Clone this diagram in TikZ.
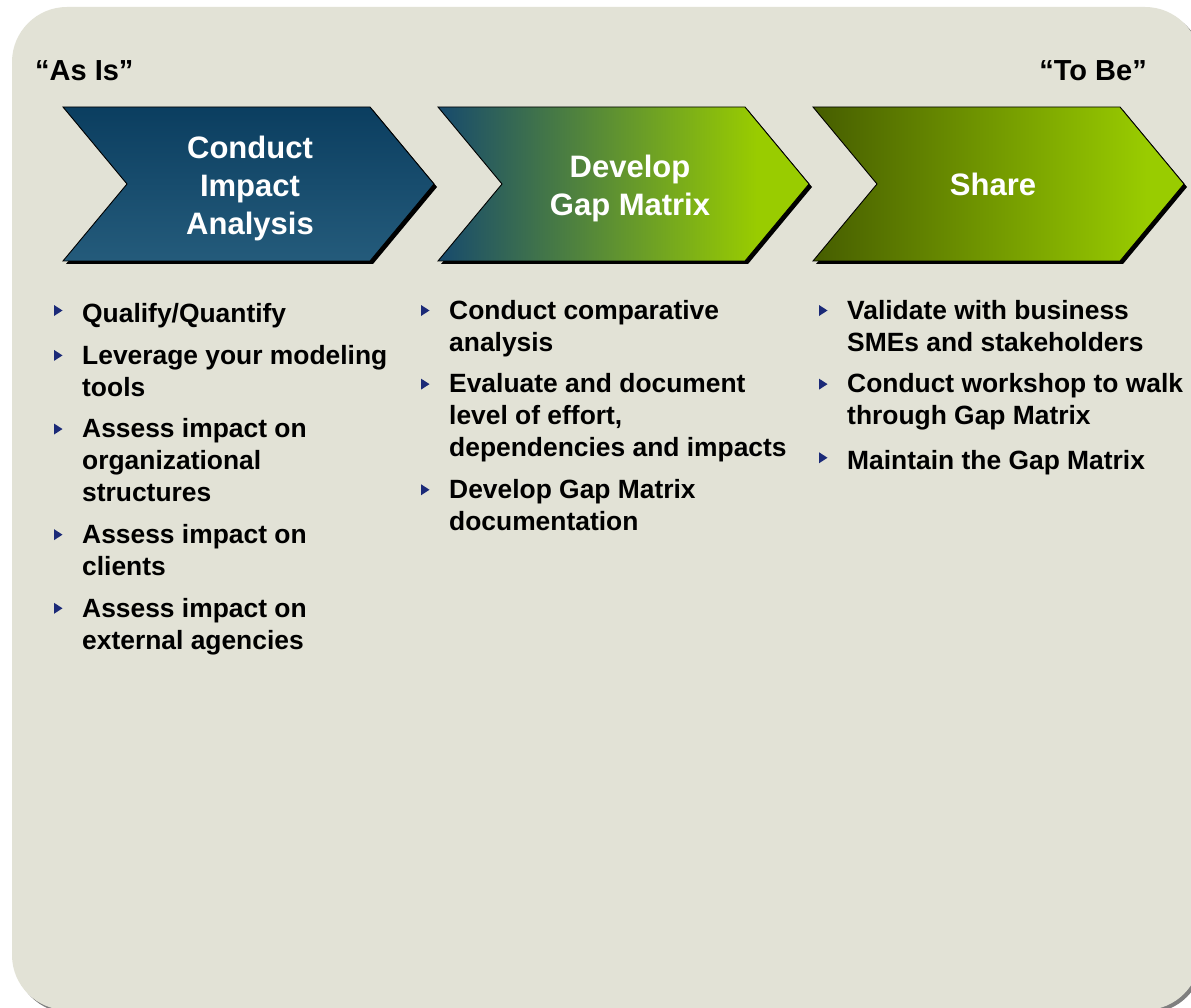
\documentclass[tikz,border=0pt]{standalone}
\usepackage{fontspec}
\setmainfont{Liberation Sans}
\usepackage{tikz}
\usetikzlibrary{positioning}
\definecolor{panelGrey}{HTML}{E2E2D6}
\definecolor{shadowGrey}{HTML}{7F7F7F}
\definecolor{navyTop}{HTML}{0B3E60}
\definecolor{navyBot}{HTML}{245B7B}
\definecolor{navyMid}{HTML}{174A6D}
\definecolor{lime}{HTML}{99CC00}
\definecolor{olive}{HTML}{465D00}
\definecolor{bulletBlue}{HTML}{1B2A78}

% left-to-right fades for the second and third chevron
\pgfdeclarehorizontalshading{gapfade}{100bp}{color(0bp)=(navyMid); color(25bp)=(navyMid);
  color(68bp)=(lime); color(100bp)=(lime)}
\pgfdeclarehorizontalshading{sharefade}{100bp}{color(0bp)=(olive); color(25bp)=(olive);
  color(70bp)=(lime); color(100bp)=(lime)}

\begin{document}
\begin{tikzpicture}[
  x=1pt, y=-1pt,
  chevron/.style={insert path={(#1,107) -- ++(307,0) -- ++(64,77) -- ++(-64,77)
    -- ++(-307,0) -- ++(64,-77) -- cycle}},
  chevshadow/.style={fill=black, xshift=3pt, yshift=-3pt},
  chevrim/.style={draw=black, line width=0.9pt},
  stagetext/.style={text=white, font=\fontsize{31}{38}\selectfont\bfseries, align=center},
  endtext/.style={font=\fontsize{29}{34}\selectfont\bfseries, anchor=base west, inner sep=0pt},
  itemtext/.style={font=\fontsize{26.4}{32}\selectfont\bfseries, align=left, inner sep=0pt,
    anchor=north west, execute at begin node=\strut, execute at end node=\strut}
]
\useasboundingbox (0,0) rectangle (1191,1008);
\clip (0,0) rectangle (1191,1008);
\fill[white] (0,0) rectangle (1191,1008);

% panel with its shadow
\fill[shadowGrey, rounded corners=55pt] (15,10) rectangle (1203,1013);
\fill[panelGrey, rounded corners=55pt] (12,7) rectangle (1200,1010);

\node[endtext] (asis) at (35,81) {“As Is”};
\node[endtext, anchor=base east] (tobe) at (1147,81) {“To Be”};

% chevrons
\foreach \x in {63,438,813} \fill[chevshadow] [chevron=\x];
\shade[top color=navyTop, bottom color=navyBot, chevrim] [chevron=63];
\shade[shading=gapfade, chevrim] [chevron=438];
\shade[shading=sharefade, chevrim] [chevron=813];

\node[stagetext] (impact) at (250,188) {Conduct\\Impact\\Analysis};
\node[stagetext] (gap) at (630,188) {Develop\\Gap Matrix};
\node[stagetext] (share) at (993,184) {Share};

% first column
\node[itemtext] (a1) at (82,300) {Qualify/Quantify};
\node[itemtext, below right=12.5pt and 0pt of a1.south west] (a2) {Leverage your modeling\\tools};
\node[itemtext, below right=12.5pt and 0pt of a2.south west] (a3) {Assess impact on\\organizational\\structures};
\node[itemtext, below right=12.5pt and 0pt of a3.south west] (a4) {Assess impact on\\clients};
\node[itemtext, below right=12.5pt and 0pt of a4.south west] (a5) {Assess impact on\\external agencies};

% second column
\node[itemtext] (b1) at (449,300) {Conduct comparative\\analysis};
\node[itemtext, below right=12.5pt and 0pt of b1.south west] (b2) {Evaluate and document\\level of effort,\\dependencies and impacts};
\node[itemtext, below right=12.5pt and 0pt of b2.south west] (b3) {Develop Gap Matrix\\documentation};

% third column
\node[itemtext] (c1) at (847,300) {Validate with business\\SMEs and stakeholders};
\node[itemtext, below right=12.5pt and 0pt of c1.south west] (c2) {Conduct workshop to walk\\through Gap Matrix};
\node[itemtext, below right=12.5pt and 0pt of c2.south west] (c3) {Maintain the Gap Matrix};

% bullets
\foreach \n in {a1,a2,a3,a4,a5,b1,b2,b3,c1,c2,c3}
  \fill[bulletBlue] ([shift={(-28pt,-5pt)}]\n.north west) -- ++(8.5,5.5) -- ++(-8.5,5.5) -- cycle;
\end{tikzpicture}
\end{document}
